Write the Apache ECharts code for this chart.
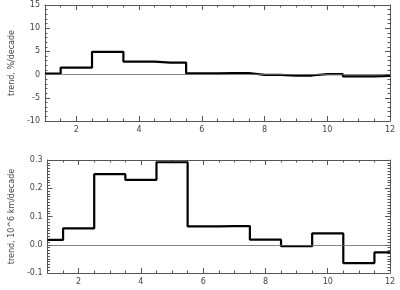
<!DOCTYPE html>
<html><head><meta charset="utf-8">
<script src="https://cdn.jsdelivr.net/npm/echarts@6/dist/echarts.min.js"></script>
<style>html,body{margin:0;padding:0;background:#fff}#c{width:400px;height:290px}</style>
</head><body><div id="c"></div>
<script>
var months = [1,2,3,4,5,6,7,8,9,10,11,12];
var trendPct = [0.2,1.5,4.9,2.8,2.6,0.25,0.35,-0.05,-0.2,0.1,-0.4,-0.3];
var trendArea = [0.017,0.058,0.25,0.23,0.292,0.065,0.066,0.018,-0.005,0.04,-0.065,-0.027];
var xTickLabels = [2,4,6,8,10,12];
var topYLabel = 'trend, %/decade';
var botYLabel = 'trend, 10^6 km/decade';

var chart = echarts.init(document.getElementById('c'));
var axCol = '#555';
var lab = {color:'#444', fontSize:8, fontFamily:'DejaVu Sans'};
function xMajor(grid, pos, show){
  return {type:'value', gridIndex:grid, position:pos, min:1, max:12,
    axisLine:{show:true, onZero:false, lineStyle:{color:axCol,width:1}},
    axisTick:{show:true, inside:true, length:5, customValues:xTickLabels, lineStyle:{color:axCol}},
    splitLine:{show:false},
    axisLabel:Object.assign({show:show, margin:5, customValues:xTickLabels}, lab)};
}
function xMinor(grid, pos){
  return {type:'value', gridIndex:grid, position:pos, min:1, max:12, interval:0.5,
    axisLine:{show:false, onZero:false},
    axisTick:{show:true, inside:true, length:2.5, lineStyle:{color:axCol}},
    splitLine:{show:false}, axisLabel:{show:false}};
}
function yAx(grid, pos, show, min, max, interval, minorN, name){
  return {type:'value', gridIndex:grid, position:pos, min:min, max:max, interval:interval,
    name: show?name:'', nameLocation:'middle', nameGap:24, nameTextStyle:{color:'#444', fontSize:8, fontFamily:'DejaVu Sans'},
    axisLine:{show:true, onZero:false, lineStyle:{color:axCol,width:1}},
    axisTick:{show:true, inside:true, length:5, lineStyle:{color:axCol}},
    minorTick:{show:true, splitNumber:minorN, length:2.5, lineStyle:{color:axCol}},
    splitLine:{show:false},
    axisLabel:Object.assign({show:show, margin:5, formatter:function(v){return Math.abs(v)<1e-9?(interval<1?'0.0':'0'):(interval<1?v.toFixed(1):v);}}, lab)};
}
function zeroLine(){
  return {silent:true, symbol:'none', label:{show:false}, lineStyle:{color:'#666', width:0.8, type:'solid'}, data:[{yAxis:0}]};
}
chart.setOption({
  animation:false,
  grid:[{left:36, right:10, top:5, height:116},{left:36, right:10, top:160, height:113}],
  xAxis:[xMajor(0,'bottom',true), xMajor(0,'top',false), xMinor(0,'bottom'), xMinor(0,'top'),
         xMajor(1,'bottom',true), xMajor(1,'top',false), xMinor(1,'bottom'), xMinor(1,'top')],
  yAxis:[yAx(0,'left',true,-10,15,5,5,topYLabel), yAx(0,'right',false,-10,15,5,5,''),
         yAx(1,'left',true,-0.1,0.3,0.1,10,botYLabel), yAx(1,'right',false,-0.1,0.3,0.1,10,'')],
  series:[
    {type:'line', xAxisIndex:0, yAxisIndex:0, step:'middle', symbol:'none',
     data:months.map(function(m,i){return [m,trendPct[i]];}),
     lineStyle:{color:'#000', width:2.2}, markLine:zeroLine()},
    {type:'line', xAxisIndex:4, yAxisIndex:2, step:'middle', symbol:'none',
     data:months.map(function(m,i){return [m,trendArea[i]];}),
     lineStyle:{color:'#000', width:2.2}, markLine:zeroLine()}
  ]
});
</script></body></html>
